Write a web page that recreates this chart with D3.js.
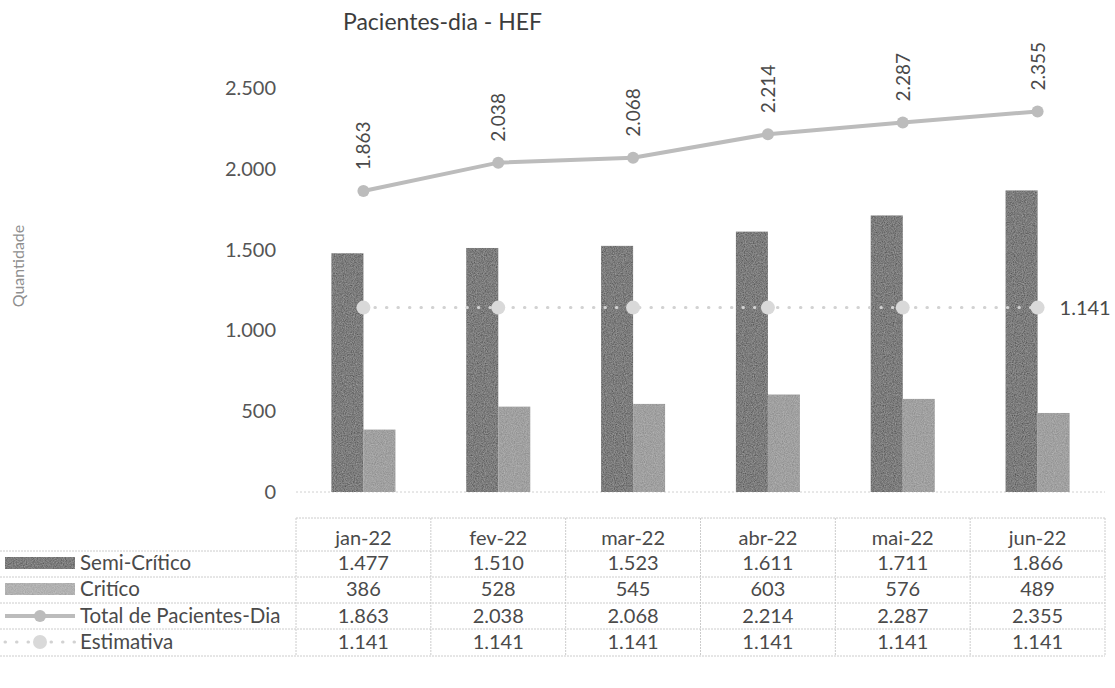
<!DOCTYPE html>
<html><head><meta charset="utf-8">
<script src="https://cdn.jsdelivr.net/npm/d3@7/dist/d3.min.js"></script>
<style>
body{margin:0;background:#fff;}
svg{display:block;font-family:Lato,"Open Sans",sans-serif;}
</style></head>
<body><svg id="c" width="1115" height="688"></svg>
<script>
const categories = ["jan-22","fev-22","mar-22","abr-22","mai-22","jun-22"];
const semiCritico = [1477,1510,1523,1611,1711,1866];
const critico = [386,528,545,603,576,489];
const totalPacientes = [1863,2038,2068,2214,2287,2355];
const estimativa = [1141,1141,1141,1141,1141,1141];
const yTicks = [0,500,1000,1500,2000,2500];
const seriesNames = ["Semi-Crítico","Critíco","Total de Pacientes-Dia","Estimativa"];
const title = "Pacientes-dia - HEF";
const yTitle = "Quantidade";

const fmt = v => d3.format(",")(v).replace(/,/g,".");
const svg = d3.select("#c");

const x = d3.scaleBand().domain(categories).range([296,1105]);
const y = d3.scaleLinear().domain([0,2500]).range([492,88]);
const bw = 32;

const cSemi = "#545454", cCrit = "#8c8c8c", cTot = "#bcbcbc", cEst = "#d2d2d2";
const txt = "#4a4a4a";

// noise texture
const defs = svg.append("defs");
const f = defs.append("filter").attr("id","noise").attr("x",0).attr("y",0).attr("width","100%").attr("height","100%");
f.append("feTurbulence").attr("type","fractalNoise").attr("baseFrequency",0.9).attr("numOctaves",2).attr("result","n");
f.append("feColorMatrix").attr("in","n").attr("type","matrix")
 .attr("values","0 0 0 0 1  0 0 0 0 1  0 0 0 0 1  0 0 0 0.35 -0.05").attr("result","w");
f.append("feComposite").attr("in","w").attr("in2","SourceGraphic").attr("operator","in").attr("result","wc");
f.append("feMerge").call(m=>{m.append("feMergeNode").attr("in","SourceGraphic");m.append("feMergeNode").attr("in","wc");});

// title
svg.append("text").attr("x",343).attr("y",30).attr("font-size",23).attr("fill","#3c3c3c").text(title);
// y title
svg.append("text").attr("transform","translate(24,266) rotate(-90)").attr("text-anchor","middle")
  .attr("font-size",16).attr("fill","#8f8f8f").text(yTitle);

// y axis
const yAxis = d3.axisLeft(y).tickValues(yTicks).tickFormat(fmt).tickSize(0).tickPadding(0);
const ga = svg.append("g").attr("transform","translate(276,0)").call(yAxis);
ga.select(".domain").remove();
ga.selectAll("text").attr("font-size",20).attr("fill","#555").attr("font-family","Lato,'Open Sans',sans-serif");

// baseline
svg.append("line").attr("x1",296).attr("x2",1105).attr("y1",y(0)).attr("y2",y(0))
  .attr("stroke","#d0d0d0").attr("stroke-dasharray","2,2");

// bars
const cx = c => x(c) + x.bandwidth()/2;
svg.append("g").selectAll("rect").data(categories).join("rect")
  .attr("x",c=>cx(c)-bw).attr("width",bw)
  .attr("y",(c,i)=>y(semiCritico[i])).attr("height",(c,i)=>y(0)-y(semiCritico[i]))
  .attr("fill",cSemi).attr("filter","url(#noise)");
svg.append("g").selectAll("rect").data(categories).join("rect")
  .attr("x",c=>cx(c)).attr("width",bw)
  .attr("y",(c,i)=>y(critico[i])).attr("height",(c,i)=>y(0)-y(critico[i]))
  .attr("fill",cCrit).attr("filter","url(#noise)");

// estimativa line
const line = d3.line().x((d,i)=>cx(categories[i])).y(d=>y(d));
svg.append("path").datum(estimativa).attr("d",line).attr("fill","none")
  .attr("stroke",cEst).attr("stroke-width",3).attr("stroke-dasharray","0.5,11").attr("stroke-linecap","round");
svg.append("g").selectAll("circle").data(estimativa).join("circle")
  .attr("cx",(d,i)=>cx(categories[i])).attr("cy",d=>y(d)).attr("r",7).attr("fill","#d9d9d9");
svg.append("text").attr("x",cx(categories[5])+22).attr("y",y(estimativa[5])+7)
  .attr("font-size",20).attr("fill",txt).text(fmt(estimativa[5]));

// total line
svg.append("path").datum(totalPacientes).attr("d",line).attr("fill","none")
  .attr("stroke",cTot).attr("stroke-width",4);
svg.append("g").selectAll("circle").data(totalPacientes).join("circle")
  .attr("cx",(d,i)=>cx(categories[i])).attr("cy",d=>y(d)).attr("r",6).attr("fill",cTot);
svg.append("g").selectAll("text").data(totalPacientes).join("text")
  .attr("transform",(d,i)=>`translate(${cx(categories[i])+7},${y(d)-21}) rotate(-90)`)
  .attr("font-size",19).attr("fill",txt).text(d=>fmt(d));

// data table
const rowLines = [551,577,603,629,656];
const tbl = svg.append("g");
const lc = "#cccccc";
tbl.append("line").attr("x1",296).attr("x2",1105).attr("y1",518).attr("y2",518).attr("stroke",lc).attr("stroke-dasharray","2,1");
rowLines.forEach(ly=>tbl.append("line").attr("x1",0).attr("x2",1105).attr("y1",ly).attr("y2",ly).attr("stroke",lc).attr("stroke-dasharray","2,1"));
const vx = [296].concat(categories.map(c=>x(c)+x.bandwidth()));
vx.forEach(vv=>tbl.append("line").attr("x1",vv).attr("x2",vv).attr("y1",518).attr("y2",656).attr("stroke",lc).attr("stroke-dasharray","2,1"));
tbl.selectAll("text.h").data(categories).join("text").attr("class","h")
  .attr("x",c=>cx(c)).attr("y",545).attr("text-anchor","middle").attr("font-size",20).attr("fill",txt).text(c=>c);
const rows = [semiCritico,critico,totalPacientes,estimativa];
const rowY = [570,596,623,649];
rows.forEach((arr,r)=>{
  tbl.append("g").selectAll("text").data(arr).join("text")
   .attr("x",(d,i)=>cx(categories[i])).attr("y",rowY[r]).attr("text-anchor","middle")
   .attr("font-size",20).attr("fill",txt).text(d=>fmt(d));
  tbl.append("text").attr("x",80).attr("y",rowY[r]).attr("font-size",20.5).attr("fill",txt).text(seriesNames[r]);
});
// legend keys
tbl.append("rect").attr("x",5).attr("y",557).attr("width",70).attr("height",12).attr("fill",cSemi).attr("filter","url(#noise)");
tbl.append("rect").attr("x",5).attr("y",583).attr("width",70).attr("height",12).attr("fill","#a3a3a3").attr("filter","url(#noise)");
tbl.append("line").attr("x1",5).attr("x2",75).attr("y1",616).attr("y2",616).attr("stroke",cTot).attr("stroke-width",4);
tbl.append("circle").attr("cx",40).attr("cy",616).attr("r",6).attr("fill",cTot);
tbl.append("line").attr("x1",5).attr("x2",75).attr("y1",642).attr("y2",642).attr("stroke",cEst).attr("stroke-width",3).attr("stroke-dasharray","0.5,11").attr("stroke-linecap","round");
tbl.append("circle").attr("cx",40).attr("cy",642).attr("r",7).attr("fill","#d9d9d9");
</script></body></html>
